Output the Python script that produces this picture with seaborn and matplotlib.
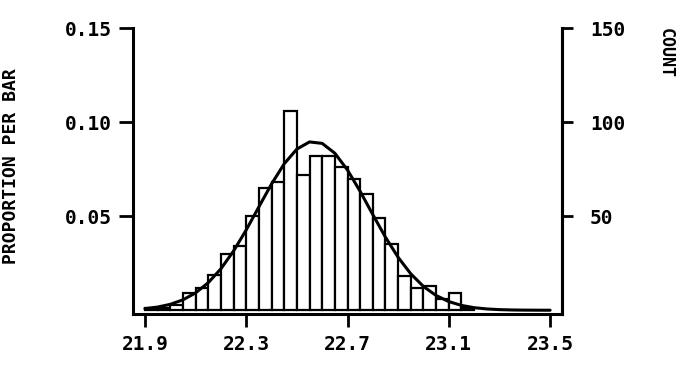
import numpy as np
import pandas as pd
import matplotlib
matplotlib.use("Agg")
import matplotlib.pyplot as plt
import seaborn as sns

# ---- data ----
bin_start = 21.9
bin_width = 0.05
counts = [1, 1, 3, 9, 12, 19, 30, 34, 50, 65, 68, 106, 72, 82, 82, 76,
          70, 62, 49, 35, 18, 12, 13, 6, 9, 1]
n_total = 1000                      # sample size shown by the two axes (0.15 <-> 150)
x_ticks = [21.9, 22.3, 22.7, 23.1, 23.5]
count_ticks = [50, 100, 150]
curve_range = (21.9, 23.5)
y_label_left = "PROPORTION PER BAR"
y_label_right = "COUNT"

# ---- derived quantities ----
edges = bin_start + bin_width * np.arange(len(counts) + 1)
centers = (edges[:-1] + edges[1:]) / 2
df = pd.DataFrame({"value": centers, "count": np.array(counts, dtype=float)})

# normal fit to the binned data (expected count per bar)
w = np.array(counts, dtype=float)
mu = np.sum(centers * w) / w.sum()
sd = np.sqrt(np.sum(w * (centers - mu) ** 2) / w.sum())
grid = np.arange(curve_range[0], curve_range[1] + 1e-9, bin_width)
fit = w.sum() * bin_width / (sd * np.sqrt(2 * np.pi)) * np.exp(-0.5 * ((grid - mu) / sd) ** 2)
curve_df = pd.DataFrame({"x": grid, "y": fit})

sns.set_style("white")
plt.rcParams["font.family"] = ["DejaVu Sans Mono", "DejaVu Sans"]
plt.rcParams["font.weight"] = "bold"
plt.rcParams["text.color"] = "black"
plt.rcParams["xtick.color"] = "black"
plt.rcParams["ytick.color"] = "black"
plt.rcParams["axes.labelcolor"] = "black"

W, H = 688, 372
fig = plt.figure(figsize=(W / 100, H / 100), dpi=100)
ax_left, ax_right, ax_top, ax_bot = 133, 562, 28.3, 314
ax = fig.add_axes([ax_left / W, 1 - ax_bot / H, (ax_right - ax_left) / W, (ax_bot - ax_top) / H])

sns.histplot(data=df, x="value", weights="count", bins=[float(e) for e in edges], ax=ax,
             color="white", edgecolor="black", linewidth=1.6, alpha=1)
sns.lineplot(data=curve_df, x="x", y="y", ax=ax, color="black", linewidth=2.2)

xpad = 0.047
ax.set_xlim(x_ticks[0] - xpad, x_ticks[-1] + xpad)
ax.set_ylim(-2, 150)

for s in ["left", "right", "bottom"]:
    ax.spines[s].set_visible(True)
    ax.spines[s].set_linewidth(2.2)
    ax.spines[s].set_color("black")
ax.spines["top"].set_visible(False)

ax.set_xticks(x_ticks)
ax.set_xticklabels([f"{t:.1f}" for t in x_ticks])
ax.set_yticks(count_ticks)
ax.set_yticklabels([f"{c / n_total:.2f}" for c in count_ticks])
ax.tick_params(axis="both", direction="out", length=9, width=2, colors="black",
               labelsize=14, pad=6)
ax.tick_params(axis="y", left=True, length=10, pad=5)
ax.tick_params(axis="x", bottom=True)
ax.set_xlabel("")
ax.set_ylabel("")

ax2 = ax.twinx()
ax2.set_ylim(ax.get_ylim())
ax2.set_yticks(count_ticks)
ax2.set_yticklabels([str(c) for c in count_ticks])
ax2.tick_params(axis="y", direction="out", length=8, width=2, colors="black",
                labelsize=14, pad=12, right=True)
for s in ["left", "top", "bottom"]:
    ax2.spines[s].set_visible(False)
ax2.spines["right"].set_linewidth(2.2)
ax2.spines["right"].set_color("black")
ax2.set_ylabel("")

for lab in ax.get_xticklabels() + ax.get_yticklabels() + ax2.get_yticklabels():
    lab.set_fontweight("bold")
    lab.set_color("black")

fig.text(11 / W, 1 - 166 / H, y_label_left, rotation=90, ha="center", va="center",
         fontsize=13, fontweight="bold", color="black")
fig.text(666 / W, 1 - 28 / H, y_label_right, rotation=-90, ha="center", va="top",
         fontsize=12, fontweight="bold", color="black")

fig.savefig("out.png", dpi=100, facecolor="white")
